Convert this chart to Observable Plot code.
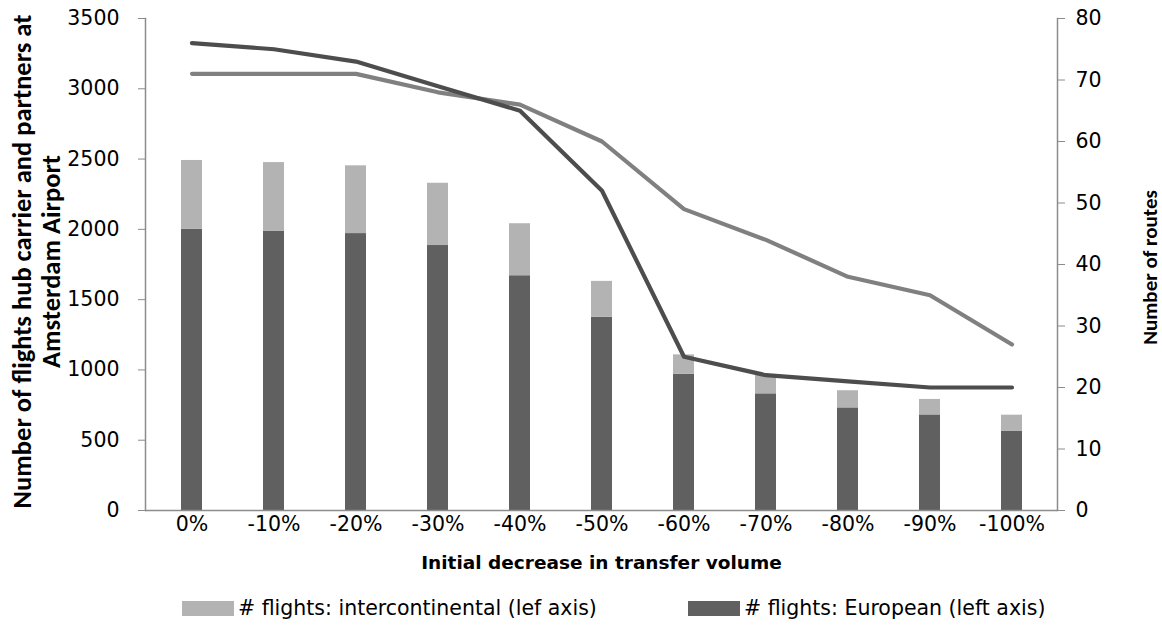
<!DOCTYPE html>
<html><head><meta charset="utf-8">
<script src="https://cdn.jsdelivr.net/npm/d3@7"></script>
<script src="https://cdn.jsdelivr.net/npm/@observablehq/plot@0.6"></script>
<style>
body{margin:0;background:#fff;font-family:"DejaVu Sans",sans-serif;}
#chart{position:relative;width:1162px;height:631px;overflow:hidden;}
#chart svg{font-family:"DejaVu Sans",sans-serif;}
.legend{position:absolute;top:595px;left:0;width:1162px;height:26px;font-size:20.5px;color:#000;}
.item{position:absolute;top:0;display:flex;align-items:center;height:26px;white-space:nowrap;}
.sw{display:inline-block;width:52px;height:15px;margin-right:4px;}
</style></head><body><div id="chart"></div>
<script>
const categories = ["0%","-10%","-20%","-30%","-40%","-50%","-60%","-70%","-80%","-90%","-100%"];
const european = [2000,1985,1970,1885,1670,1375,970,830,730,680,565];
const intercontinental = [490,490,482,443,370,255,137,135,122,110,113];
const routesDark = [76,75,73,69,65,52,25,22,21,20,20];
const routesGray = [71,71,71,68,66,60,49,44,38,35,27];
const leftTicks = [0,500,1000,1500,2000,2500,3000,3500];
const rightTicks = [0,10,20,30,40,50,60,70,80];
const seriesNames = ["# flights: European (left axis)","# flights: intercontinental (lef axis)"];
const seriesColors = ["#606060","#b3b3b3"];

const k = 3500/80;
const bars = [];
categories.forEach((c,i)=>{
  bars.push({cat:c, series:seriesNames[0], value:european[i]});
  bars.push({cat:c, series:seriesNames[1], value:intercontinental[i]});
});
const lineDark = categories.map((c,i)=>({cat:c, v:routesDark[i]*k}));
const lineGray = categories.map((c,i)=>({cat:c, v:routesGray[i]*k}));
const rotFont = "Carlito, Calibri, Lato, sans-serif";

const chart = Plot.plot({
  width:1162, height:580,
  marginLeft:145, marginRight:105, marginTop:18, marginBottom:70,
  style:{fontSize:"20.5px", color:"#000", background:"#fff"},
  x:{domain:categories, paddingInner:0.75, paddingOuter:0.375},
  y:{domain:[0,3500]},
  color:{domain:seriesNames, range:seriesColors},
  marks:[
    Plot.barY(bars, {x:"cat", y:"value", fill:"series", order:null}),
    Plot.line(lineGray, {x:"cat", y:"v", stroke:"#808080", strokeWidth:4.2, strokeLinecap:"round", strokeLinejoin:"round"}),
    Plot.line(lineDark, {x:"cat", y:"v", stroke:"#4d4d4d", strokeWidth:4.2, strokeLinecap:"round", strokeLinejoin:"round"}),
    Plot.ruleY([0], {stroke:"#8c8c8c", strokeWidth:1.5}),
    Plot.frame({anchor:"left", stroke:"#8c8c8c", strokeWidth:1.5}),
    Plot.frame({anchor:"right", stroke:"#8c8c8c", strokeWidth:1.5}),
    Plot.axisX({tickSize:0, tickPadding:6, fontSize:20.5, label:null}),
    Plot.axisY({anchor:"left", ticks:leftTicks, tickSize:7, tickPadding:19, fontSize:20.5, stroke:"#8c8c8c", label:null, tickFormat:d=>String(d)}),
    Plot.axisY({anchor:"right", ticks:rightTicks.map(v=>v*k), tickSize:7, tickPadding:11, fontSize:20.5, stroke:"#8c8c8c", label:null, tickFormat:d=>String(Math.round(d/k))}),
    Plot.text(["Number of flights hub carrier and partners at\nAmsterdam Airport"], {text:d=>d, frameAnchor:"left", textAnchor:"middle", dx:-109, dy:-3, rotate:-90, fontSize:26.5, fontWeight:"bold", fontFamily:rotFont, lineHeight:1.06, fill:"#000"}),
    Plot.text(["Number of routes"], {text:d=>d, frameAnchor:"right", textAnchor:"middle", dx:93, dy:3, rotate:-90, fontSize:21, fontWeight:"bold", fontFamily:rotFont, fill:"#000"}),
    Plot.text(["Initial decrease in transfer volume"], {text:d=>d, frameAnchor:"bottom", textAnchor:"middle", dy:58, fontSize:18.5, fontWeight:"bold", fill:"#000"})
  ]
});
const host = document.getElementById("chart");
host.appendChild(chart);
const lg = document.createElement("div");
lg.className = "legend";
const items = [{name:seriesNames[1], color:seriesColors[1], left:182},{name:seriesNames[0], color:seriesColors[0], left:688}];
items.forEach(it=>{
  const d = document.createElement("div");
  d.className = "item"; d.style.left = it.left + "px";
  const s = document.createElement("span"); s.className="sw"; s.style.background = it.color;
  const t = document.createElement("span"); t.textContent = it.name;
  d.appendChild(s); d.appendChild(t); lg.appendChild(d);
});
host.appendChild(lg);
</script></body></html>
